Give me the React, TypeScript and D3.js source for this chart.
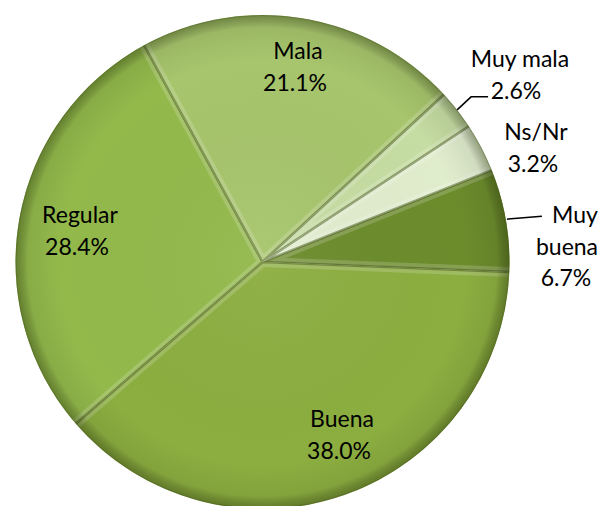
import React from "react";
import * as d3 from "d3";

const categories = ["Buena", "Regular", "Mala", "Muy mala", "Ns/Nr", "Muy buena"];
const values = [38.0, 28.4, 21.1, 2.6, 3.2, 6.7];
const colors = ["#8cae40", "#93b94b", "#a7c56c", "#c5dca2", "#e0edcd", "#6c8c2c"];

// label lines and where they sit (center x, first baseline)
const labelLayout: Record<string, { x: number[]; y: number; leader?: boolean }> = {
  "Buena": { x: [342, 339], y: 427 },
  "Regular": { x: [80, 77], y: 223 },
  "Mala": { x: [298, 295], y: 59 },
  "Muy mala": { x: [520, 516], y: 67, leader: true },
  "Ns/Nr": { x: [536, 533], y: 140 },
  "Muy buena": { x: [575, 567, 566], y: 223, leader: true },
};

const W = 607;
const H = 506;
const cx = 262.5;
const cy = 262;
const R = 247;

export default function App() {
  const data = categories.map((c, i) => ({ cat: c, value: values[i], color: colors[i] }));
  const start = (92.3 * Math.PI) / 180;
  const pie = d3.pie<any>().sort(null).value((d) => d.value).startAngle(start).endAngle(start + 2 * Math.PI);
  const arcs = pie(data);
  const arc = d3.arc<any>().innerRadius(0).outerRadius(R);
  const rimArc = d3.arc<any>().innerRadius(R).outerRadius(R);

  // radial edges of a slice, for the bevel highlight
  const edges = (d: any) => {
    const p = (a: number) => [Math.sin(a) * R, -Math.cos(a) * R];
    const [x0, y0] = p(d.startAngle);
    const [x1, y1] = p(d.endAngle);
    return `M${x0},${y0}L0,0L${x1},${y1}`;
  };

  const lines = (d: any) => {
    const pct = d.data.value.toFixed(1) + "%";
    if (d.data.cat === "Muy buena") return ["Muy", "buena", pct];
    return [d.data.cat, pct];
  };

  return (
    <>
      <style>{`body{margin:0}`}</style>
      <svg width={W} height={H} style={{ display: "block", fontFamily: "Lato, 'Open Sans', sans-serif" }}>
        <defs>
          <radialGradient id="rim" cx={cx} cy={cy} r={R} gradientUnits="userSpaceOnUse">
            <stop offset="0" stopColor="#fff" stopOpacity={0.05} />
            <stop offset="0.82" stopColor="#000" stopOpacity={0} />
            <stop offset="0.95" stopColor="#000" stopOpacity={0.07} />
            <stop offset="1" stopColor="#1e2a05" stopOpacity={0.4} />
          </radialGradient>
          {arcs.map((d, i) => (
            <clipPath id={`clip${i}`} key={i}>
              <path d={arc(d) || ""} transform={`translate(${cx},${cy})`} />
            </clipPath>
          ))}
        </defs>
        <g transform={`translate(${cx},${cy})`}>
          {arcs.map((d, i) => (
            <path key={i} d={arc(d) || ""} fill={d.data.color} />
          ))}
        </g>
        {arcs.map((d, i) => (
          <g key={i} clipPath={`url(#clip${i})`}>
            <path
              d={edges(d)}
              transform={`translate(${cx},${cy})`}
              fill="none"
              stroke="#fff"
              strokeOpacity={0.18}
              strokeWidth={10}
            />
            <path
              d={edges(d)}
              transform={`translate(${cx},${cy})`}
              fill="none"
              stroke="#3f5214"
              strokeOpacity={0.5}
              strokeWidth={2.5}
            />
          </g>
        ))}
        <circle cx={cx} cy={cy} r={R} fill="url(#rim)" />
        <circle cx={cx} cy={cy} r={R - 0.5} fill="none" stroke="#4a5e1c" strokeOpacity={0.35} strokeWidth={1} />
        {arcs.map((d, i) => {
          const lay = labelLayout[d.data.cat];
          const ls = lines(d);
          let leader = null;
          if (lay.leader) {
            const [px, py] = rimArc.centroid(d);
            const sx = cx + px;
            const sy = cy + py;
            if (d.data.cat === "Muy mala") {
              leader = <path d={`M${sx},${sy}L${sx + 14},${sy - 13}L${sx + 31},${sy - 13}`} fill="none" stroke="#000" strokeWidth={1.5} />;
            } else {
              leader = <path d={`M${sx + 1},${sy - 1}L${sx + 36},${sy - 4}`} fill="none" stroke="#000" strokeWidth={1.5} />;
            }
          }
          return (
            <g key={`l${i}`}>
              {leader}
              {ls.map((t, j) => (
                <text key={j} x={lay.x[j]} y={lay.y + j * 31.5} textAnchor="middle" fontSize={23} fill="#000">
                  {t}
                </text>
              ))}
            </g>
          );
        })}
      </svg>
    </>
  );
}
